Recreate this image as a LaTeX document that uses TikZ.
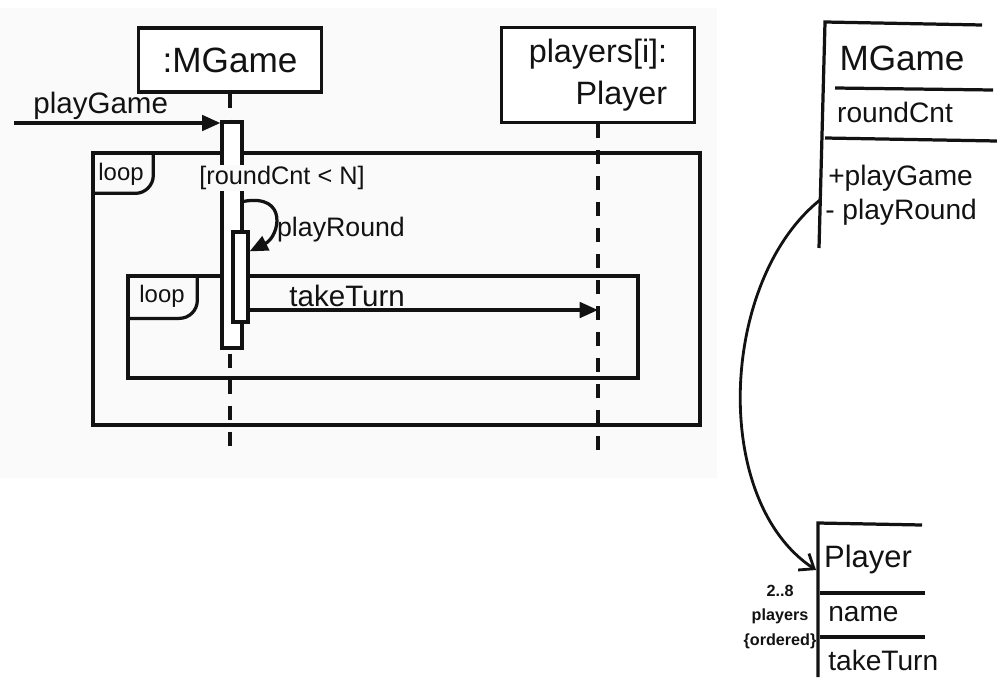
\documentclass[tikz,border=0pt]{standalone}
\usepackage{fontspec}
\setmainfont{Liberation Sans}
\usetikzlibrary{arrows.meta}
\definecolor{ink}{RGB}{18,18,18}
\definecolor{paper}{RGB}{250,250,250}
\tikzset{
  objbox/.style={rectangle, draw=ink, fill=white, line width=2.3pt, text=ink,
    font=\fontsize{25}{28}\selectfont},
  lifeline/.style={draw=ink, line width=2.3pt, dash pattern=on 0.35cm off 0.3cm},
  msg/.style={-{Triangle[length=13pt,width=11pt]}, line width=2.3pt, color=ink},
  line/.style={line width=2.3pt, color=ink}
}

\begin{document}
\begin{tikzpicture}[x=0.025cm, y=-0.025cm,
  actbar/.style={rectangle, draw=ink, fill=white, line width=2.3pt, minimum width=0.5cm, inner sep=0pt},
  frame/.style={rectangle, draw=ink, line width=2.3pt, inner sep=0pt},
  txt/.style={text=ink, inner sep=1pt, font=\fontsize{20}{22}\selectfont},
  cls/.style={text=ink, inner sep=0pt, font=\fontsize{20}{22}\selectfont},
  small/.style={text=ink, align=center, inner sep=0pt, font=\bfseries\fontsize{11.5}{17.7}\selectfont},
  assoc/.style={-{Straight Barb[length=9pt,width=14pt]}, line width=2pt, color=ink}
]
\useasboundingbox (0,0) rectangle (997,677);
\fill[paper] (0,8) rectangle (717,478);

% sequence diagram
\node[objbox, minimum width=4.575cm, minimum height=1.6cm] (mgame) at (230,60) {:MGame};
\node[objbox, minimum width=4.825cm, minimum height=2.375cm, align=right,
  font=\fontsize{23}{30}\selectfont] (players) at (598,75) {players[i]:\\Player\hspace{0.4em}};
\coordinate (mgend) at (230,452);
\coordinate (plend) at (598,462);
\draw[lifeline] (mgame.south) -- (mgend);
\draw[lifeline] (players.south) -- (plend);

% loop frames
\node[frame, minimum width=15.175cm, minimum height=6.8cm] (outerloop) at (396.5,289) {};
\draw[line, rounded corners=0.45cm] ([yshift=-1.05cm]outerloop.north west) -- ++(62,0) -- ++(0,-42);
\node[txt, font=\fontsize{17}{19}\selectfont] (outertag) at (121,174) {loop};
\node[frame, minimum width=12.75cm, minimum height=2.55cm] (innerloop) at (383,327) {};
\draw[line, rounded corners=0.45cm] ([yshift=-1.1cm]innerloop.north west) -- ++(71,0) -- ++(0,-44);
\node[txt, font=\fontsize{17}{19}\selectfont] (innertag) at (162,296) {loop};

% activation bars
\node[actbar, minimum height=5.65cm] (bar1) at (232,235) {};
\node[actbar, minimum width=0.375cm, minimum height=2.25cm] (bar2) at (240.5,277) {};
\node[txt, fill=paper, font=\fontsize{18}{20}\selectfont] (guard) at (282,178) {[roundCnt < N]};

\coordinate (caller) at (14,123);
\draw[msg] (caller) -- (caller -| bar1.west)
  node[txt, above, pos=0.42, font=\fontsize{21}{23}\selectfont] (pglabel) {playGame};
\draw[msg] ([yshift=-2.025cm]bar1.north east) .. controls +(45,-8) and +(30,-15) .. ([yshift=-0.525cm]bar2.north east);
\node[txt, font=\fontsize{19}{21}\selectfont] (prlabel) at (341,230) {playRound};
\coordinate (turnout) at ([yshift=-0.825cm]bar2.east);
\draw[msg] (turnout) -- (turnout -| players.south)
  node[txt, above, pos=0.28, font=\fontsize{21}{23}\selectfont] (ttlabel) {takeTurn};

% class MGame (open on the right)
\draw[line] (982,25) -- (825,22) -- (819,248);
\draw[line] (835,88) -- (993,90);
\draw[line] (825,138) -- (997,141);
\node[cls, font=\fontsize{25}{28}\selectfont] (mgclass) at (902,58) {MGame};
\node[cls] (mgattr) at (895,112) {roundCnt};
\node[cls, anchor=west] (mgop1) at (828,178) {+playGame};
\node[cls, anchor=west] (mgop2) at (825,212) {- playRound};

% class Player
\draw[line] (922,525) -- (818,523) -- (818,677);
\draw[line] (820,593) -- (925,593);
\draw[line] (820,637) -- (925,637);
\node[cls, font=\fontsize{22}{24}\selectfont] (plclass) at (868,559) {Player};
\node[cls, anchor=west] (plattr) at (828,614) {name};
\node[cls, anchor=west] (plop) at (828,660) {takeTurn};

% association
\coordinate (mgport) at (820,200);
\coordinate (plport) at (816,570);
\draw[assoc] (mgport) .. controls (720,280) and (710,500) .. (plport);
\node[small] (mult) at (780,617) {2..8\\players\\\{ordered\}};
\end{tikzpicture}
\end{document}
